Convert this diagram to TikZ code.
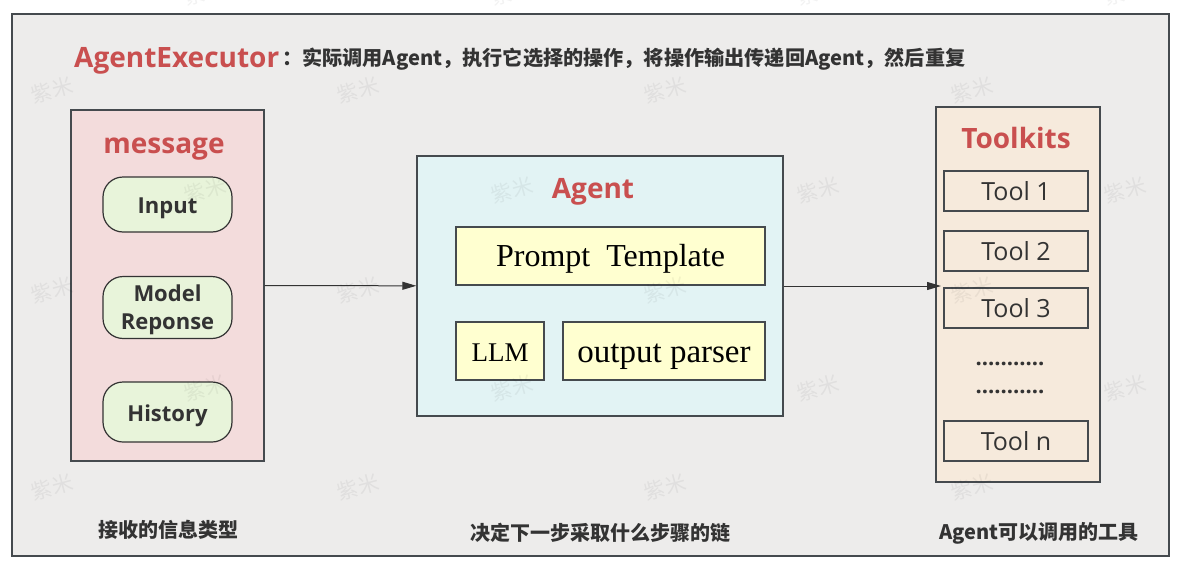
\documentclass[tikz,border=0pt]{standalone}
\usepackage{fontspec}
\setmainfont{Open Sans}
\newfontfamily\cjk{Noto Sans CJK SC}
\newfontfamily\serifpart{Liberation Serif}
\usetikzlibrary{positioning,arrows.meta}

\definecolor{framegray}{HTML}{EDECEB}
\definecolor{linegray}{HTML}{454A4E}
\definecolor{titlered}{HTML}{C94F4F}
\definecolor{textdark}{HTML}{333333}
\definecolor{msgfill}{HTML}{F3DCDC}
\definecolor{pillfill}{HTML}{E8F4DA}
\definecolor{agentfill}{HTML}{E2F3F4}
\definecolor{partfill}{HTML}{FFFFD0}
\definecolor{toolfill}{HTML}{F6EADC}

% pushes a label down inside its box
\newcommand{\dropstrut}[1]{\rule{0pt}{#1pt}}

\begin{document}
\begin{tikzpicture}[x=1pt,y=-1pt,
	% Containers
	panel/.style={rectangle,draw=linegray,line width=1.4pt,inner sep=0pt},
	heading/.style={text=titlered,font=\bfseries\fontsize{#1}{#1}\selectfont},
	% Inner boxes
	msgbox/.style={rectangle,rounded corners=20pt,draw=textdark,line width=1.2pt,fill=pillfill,
		minimum width=129pt,text=textdark,align=center,font=\bfseries\fontsize{22}{28}\selectfont},
	partbox/.style={panel,fill=partfill,minimum height=58pt,text=black,font=\serifpart\fontsize{#1}{#1}\selectfont},
	toolbox/.style={panel,minimum width=144pt,minimum height=40pt,text=textdark,font=\fontsize{25}{25}\selectfont},
	dotline/.style={text=textdark,inner sep=0pt,font=\bfseries\fontsize{22}{22}\selectfont},
	caption/.style={text=textdark,font=\cjk\bfseries\fontsize{20}{20}\selectfont},
	flow/.style={-{Triangle[length=14pt,width=8pt]},line width=1pt,draw=textdark},
	stamp/.style={text=black,text opacity=0.05,rotate=15,font=\cjk\fontsize{21}{21}\selectfont}
	]
	\useasboundingbox (0,0) rectangle (1179,568);
	%% Outer frame and title
	\node (frame) [panel,fill=framegray,minimum width=1157pt,minimum height=542pt] at (590.5,285) {};
	\node (title) [heading=28,anchor=west,inner sep=0pt] at (74,61) {AgentExecutor};
	\node (titletext) [caption,anchor=west,inner sep=0pt,font=\cjk\bfseries\fontsize{20.15}{20}\selectfont] at (282,59) {：实际调用Agent，执行它选择的操作，将操作输出传递回Agent，然后重复};
	%% Left column
	\node (message) [panel,fill=msgfill,minimum width=193pt,minimum height=351pt] at (167.5,285.5) {};
	\node (messagehead) [heading=28] at (164,149) {message};
	\node (input) [msgbox,minimum height=55pt] at (167.5,204.5) {\dropstrut{23}Input};
	\node (model) [msgbox,minimum height=61pt] at (167.5,307.5) {\dropstrut{22}Model\\Reponse};
	\node (history) [msgbox,minimum height=60pt] at (167.5,412) {\dropstrut{24}History};
	%% Middle column
	\node (agent) [panel,fill=agentfill,minimum width=366pt,minimum height=260pt] at (600,286) {};
	\node (agenthead) [heading=28] at (593,192) {Agent};
	\node (prompt) [partbox=32,minimum width=309pt] at (610.5,256) {\dropstrut{28}Prompt\ \ Template};
	\node (llm) [partbox=27,minimum width=88pt] at (500,351) {\dropstrut{20}LLM};
	\node (parser) [partbox=33,minimum width=202pt] at (664,351) {\dropstrut{30}output parser};
	%% Right column
	\node (toolkits) [panel,fill=toolfill,minimum width=164pt,minimum height=375pt] at (1018,294.5) {};
	\node (toolkitshead) [heading=28] at (1016,138) {Toolkits};
	\node (tool1) [toolbox] at (1016,191) {Tool 1};
	\node (tool2) [toolbox] at (1016,251) {Tool 2};
	\node (tool3) [toolbox] at (1016,308) {Tool 3};
	\node (dots1) [dotline] at (1010,364) {...........};
	\node (dots2) [dotline] at (1010,392) {...........};
	\node (tooln) [toolbox] at (1016,441) {Tool n};
	%% Captions
	\node (capleft) [caption] at (168,530) {接收的信息类型};
	\node (capmid) [caption] at (600,533) {决定下一步采取什么步骤的链};
	\node (capright) [caption] at (1039,533) {Agent可以调用的工具};
	%% Connectors
	\coordinate (toolin) at (941,286);
	\draw [flow] (message) -- (agent);
	\draw [flow] (agent) -- (toolin);
	%% Watermark
	\foreach \wx in {52,358,665,972} \foreach \wy in {90,290,487}
		\node (stamp\wx-\wy) [stamp] at (\wx,\wy) {紫米};
	\foreach \wx in {205,512,818,1125} \foreach \wy in {-8,190,388}
		\node (stamp\wx-\wy) [stamp] at (\wx,\wy) {紫米};
\end{tikzpicture}
\end{document}
